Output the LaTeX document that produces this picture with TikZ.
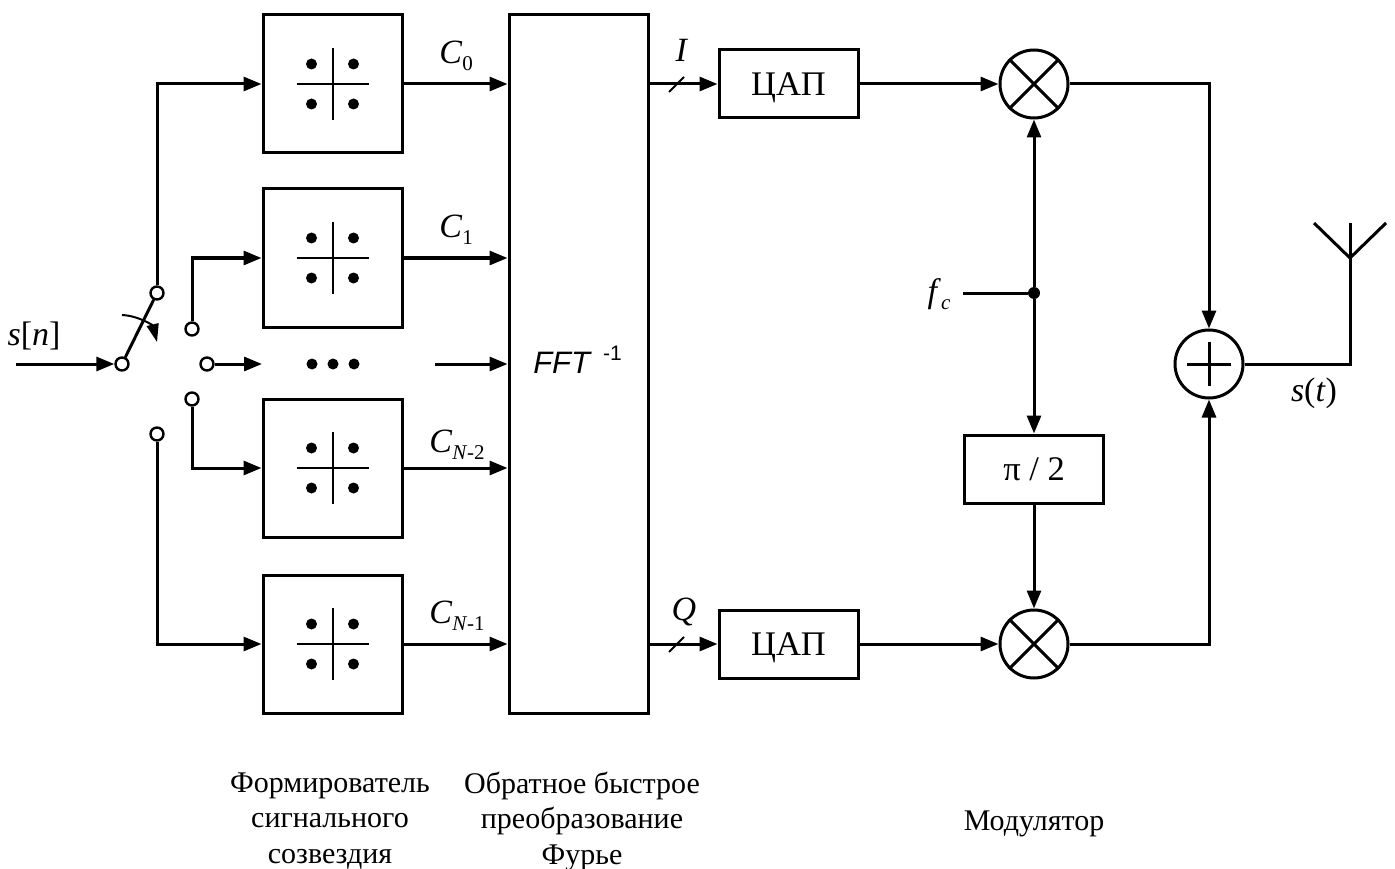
\documentclass[tikz,border=0pt]{standalone}
\usepackage{fontspec}
\setmainfont{Liberation Serif}
\setsansfont{Liberation Sans}
\usetikzlibrary{arrows.meta}

\newcommand{\idx}[1]{\raisebox{-0.2em}{\fontsize{21}{21}\selectfont #1}}

\begin{document}
\begin{tikzpicture}[
    x=1pt,y=-1pt,
    font=\fontsize{30}{35.5}\selectfont,
    block/.style={rectangle,draw,line width=3pt,minimum width=139pt,inner sep=0pt},
    mapper/.style={block,minimum height=138pt},
    dac/.style={block,minimum height=68pt,text depth=0pt,font=\fontsize{34.5}{34.5}\selectfont},
    mixer/.style={circle,draw,line width=3pt,minimum size=68pt,inner sep=0pt},
    contact/.style={circle,draw,line width=2.4pt,fill=white,minimum size=13pt,inner sep=0pt},
    dot/.style={circle,fill=black,minimum size=11pt,inner sep=0pt},
    label/.style={inner sep=0pt,font=\fontsize{34}{34}\selectfont},
    caption/.style={inner sep=0pt,align=center},
    arrow/.style={-{Triangle[length=18pt,width=14pt]},line width=3pt},
    wire/.style={line width=3pt},
    thin wire/.style={line width=2pt}
]
\useasboundingbox (0,0) rectangle (1395,869);

\node[mapper] (map_a) at (332.5,84) {};
\node[mapper] (map_b) at (332.5,258) {};
\node[mapper] (map_c) at (332.5,468) {};
\node[mapper] (map_d) at (332.5,644) {};
\foreach \m in {map_a,map_b,map_c,map_d} {
  \node[dot] (\m_nw) at ([shift={(-21,-20)}]\m.center) {};
  \node[dot] (\m_ne) at ([shift={(21,-20)}]\m.center) {};
  \node[dot] (\m_sw) at ([shift={(-21,20)}]\m.center) {};
  \node[dot] (\m_se) at ([shift={(21,20)}]\m.center) {};
  \draw[thin wire] ([shift={(-36,0)}]\m.center) -- ([shift={(36,0)}]\m.center);
  \draw[thin wire] ([shift={(0,-36)}]\m.center) -- ([shift={(0,36)}]\m.center);
}

\node[block,minimum height=698pt] (fft) at (578.5,364) {};
\node[inner sep=0pt,font=\sffamily\itshape\fontsize{31}{31}\selectfont] (fft_text) at (577.5,360) {FFT\raisebox{0.42em}{\upshape\fontsize{21}{21}\selectfont\hspace{0.62em}-1}};

\node[dac] (dac_i) at (788.5,84) {ЦАП};
\node[dac] (dac_q) at (788.5,644) {ЦАП};
\node[dac] (shift) at (1034,469) {π / 2};

\node[mixer] (mix_i) at (1034,84) {};
\node[mixer] (mix_q) at (1034,644) {};
\node[mixer] (adder) at (1209,364) {};
\draw[wire] (mix_i.north west) -- (mix_i.south east);
\draw[wire] (mix_i.north east) -- (mix_i.south west);
\draw[wire] (mix_q.north west) -- (mix_q.south east);
\draw[wire] (mix_q.north east) -- (mix_q.south west);
\draw[wire] (1187,364) -- (1231,364);
\draw[wire] (1209,342) -- (1209,386);

% switch
\coordinate (in) at (16,364);
\node[contact] (sw_in) at (122,364) {};
\node[contact] (sw_a) at (157,293) {};
\node[contact] (sw_b) at (192,329) {};
\node[contact] (sw_m) at (207,364) {};
\node[contact] (sw_c) at (192,399) {};
\node[contact] (sw_d) at (157,434) {};
\draw[arrow] (in) -- (sw_in);
\draw[wire] (sw_in) -- (sw_a);
\coordinate (turn_a) at (122,315);
\coordinate (turn_b) at (157,342);
\draw[thin wire,-{Triangle[length=18pt,width=12pt]}] (turn_a) .. controls (140,316) and (153,326) .. (turn_b);

\draw[arrow] (sw_a) |- (map_a.west);
\draw[arrow] (sw_b) |- (map_b.west);
\draw[arrow] (sw_c) |- (map_c.west);
\draw[arrow] (sw_d) |- (map_d.west);
\coordinate (mid_in) at (262,364);
\draw[arrow] (sw_m) -- (mid_in);

\node[dot] (dots_a) at (312,364) {};
\node[dot] (dots_b) at (333,364) {};
\node[dot] (dots_c) at (354,364) {};

\coordinate (fft_a) at (fft.west |- map_a);
\coordinate (fft_b) at (fft.west |- map_b);
\coordinate (fft_m) at (fft.west |- mid_in);
\coordinate (fft_c) at (fft.west |- map_c);
\coordinate (fft_d) at (fft.west |- map_d);
\coordinate (mid_out) at (435,364);
\draw[arrow] (map_a.east) -- (fft_a);
\draw[arrow] (map_b.east) -- (fft_b);
\draw[arrow] (mid_out) -- (fft_m);
\draw[arrow] (map_c.east) -- (fft_c);
\draw[arrow] (map_d.east) -- (fft_d);

\coordinate (fft_i) at (fft.east |- dac_i);
\coordinate (fft_q) at (fft.east |- dac_q);
\draw[arrow] (fft_i) -- (dac_i);
\draw[arrow] (fft_q) -- (dac_q);
\draw[thin wire] (669,92) -- (684,77);
\draw[thin wire] (669,652) -- (684,637);

\draw[arrow] (dac_i) -- (mix_i);
\draw[arrow] (dac_q) -- (mix_q);
\draw[arrow] (mix_i) -| (adder);
\draw[arrow] (mix_q) -| (adder);

% carrier
\coordinate (carrier) at (963,293);
\node[circle,fill=black,minimum size=12pt,inner sep=0pt] (branch) at (1034,293) {};
\draw[wire] (carrier) -- (branch);
\draw[arrow] (branch) -- (mix_i);
\draw[arrow] (branch) -- (shift);
\draw[arrow] (shift) -- (mix_q);

% antenna
\coordinate (ant_foot) at (1350,258);
\coordinate (ant_top) at (1350,223);
\coordinate (ant_l) at (1314,223);
\coordinate (ant_r) at (1386,223);
\draw[wire] (adder) -| (ant_foot);
\draw[wire] (ant_foot) -- (ant_top);
\draw[wire] (ant_foot) -- (ant_l);
\draw[wire] (ant_foot) -- (ant_r);

\node[label] (l_sn) at (34,336) {\textit{s}[\textit{n}]};
\node[label] (l_c0) at (456,56) {\textit{C}\idx{0}};
\node[label] (l_c1) at (456,230) {\textit{C}\idx{1}};
\node[label] (l_c2) at (457,445) {\textit{C}\idx{\textit{N}-2}};
\node[label] (l_c3) at (457,616) {\textit{C}\idx{\textit{N}-1}};
\node[label] (l_i) at (682,50) {\textit{I}};
\node[label] (l_q) at (684,612) {\textit{Q}};
\node[label] (l_fc) at (939,294) {\textit{f}\idx{\textit{c}}};
\node[label] (l_st) at (1314,393) {\textit{s}(\textit{t})};

\node[caption] (cap_map) at (330,821) {Формирователь\\сигнального\\созвездия};
\node[caption] (cap_fft) at (582,821) {Обратное быстрое\\преобразование\\Фурье};
\node[caption] (cap_mod) at (1034,824) {Модулятор};
\end{tikzpicture}
\end{document}
